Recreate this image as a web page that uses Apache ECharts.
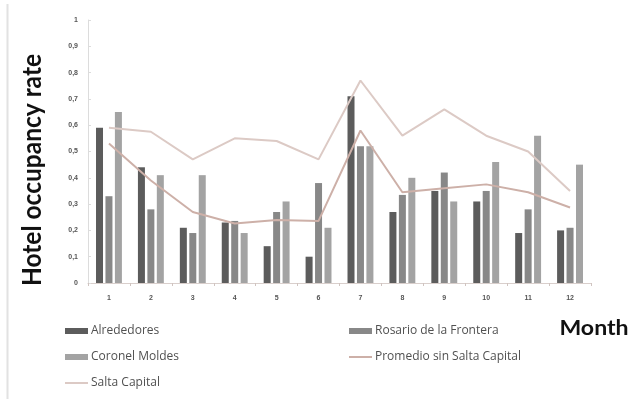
<!DOCTYPE html>
<html>
<head>
<meta charset="utf-8">
<script src="https://cdn.jsdelivr.net/npm/echarts@6/dist/echarts.min.js"></script>
<style>
  html, body { margin: 0; padding: 0; background: #fff; }
  #chart { width: 630px; height: 399px; }
</style>
</head>
<body>
<div id="chart"></div>
<script>
// Months on the category axis
const months = ['1', '2', '3', '4', '5', '6', '7', '8', '9', '10', '11', '12'];

// Monthly hotel occupancy rate per locality
const alrededores = [0.59, 0.44, 0.21, 0.23, 0.14, 0.10, 0.71, 0.27, 0.35, 0.31, 0.19, 0.20];
const rosarioDeLaFrontera = [0.33, 0.28, 0.19, 0.236, 0.27, 0.38, 0.52, 0.335, 0.42, 0.35, 0.28, 0.21];
const coronelMoldes = [0.65, 0.41, 0.41, 0.19, 0.31, 0.21, 0.52, 0.40, 0.31, 0.46, 0.56, 0.45];
const promedioSinSaltaCapital = [0.53, 0.39, 0.27, 0.226, 0.24, 0.236, 0.58, 0.345, 0.36, 0.375, 0.345, 0.287];
const saltaCapital = [0.59, 0.575, 0.47, 0.55, 0.54, 0.47, 0.77, 0.56, 0.66, 0.56, 0.50, 0.35];

// Y axis tick values, shown with a decimal comma
const yTicks = [0, 0.1, 0.2, 0.3, 0.4, 0.5, 0.6, 0.7, 0.8, 0.9, 1];

const chart = echarts.init(document.getElementById('chart'), null, { renderer: 'canvas' });

const tickFont = { fontFamily: 'Liberation Sans', fontSize: 7, color: '#555', fontWeight: 'bold' };
const legendText = { fontFamily: 'Open Sans', fontSize: 12, color: '#505050', lineHeight: 14, padding: [0, 0, 0, -2] };

const barSeries = (name, data, color) => ({
  name, type: 'bar', data,
  barWidth: 7, barGap: '35%',
  itemStyle: { color }
});

// line entries in the legend show only the stroke, no marker
const lineEntry = name => ({ name, itemStyle: { opacity: 0 } });

chart.setOption({
  animation: false,
  backgroundColor: '#fff',
  grid: { left: 88, right: 39, top: 20, bottom: 116, containLabel: false },
  xAxis: {
    type: 'category',
    data: months,
    axisLine: { lineStyle: { color: '#d9cfcc', width: 1 } },
    axisTick: { show: true, length: 3, lineStyle: { color: '#d0c4c0' } },
    axisLabel: Object.assign({ margin: 12 }, tickFont)
  },
  yAxis: {
    type: 'value',
    min: 0, max: 1, interval: 0.1,
    axisLine: { show: true, lineStyle: { color: '#dcdcdc' } },
    axisTick: { show: true, inside: true, length: 3, lineStyle: { color: '#dcdcdc' } },
    splitLine: { show: false },
    axisLabel: Object.assign({
      margin: 10,
      formatter: v => {
        const t = yTicks.find(k => Math.abs(k - v) < 1e-6);
        return t === undefined ? '' : String(t).replace('.', ',');
      }
    }, tickFont)
  },
  legend: [
    {
      orient: 'vertical', left: 64, top: 324, padding: 0,
      itemWidth: 23, itemHeight: 6, itemGap: 12,
      textStyle: legendText,
      data: [
        { name: 'Alrededores', icon: 'rect' },
        { name: 'Coronel Moldes', icon: 'rect' },
        lineEntry('Salta Capital')
      ]
    },
    {
      orient: 'vertical', left: 348, top: 324, padding: 0,
      itemWidth: 23, itemHeight: 6, itemGap: 12,
      textStyle: legendText,
      data: [
        { name: 'Rosario de la Frontera', icon: 'rect' },
        lineEntry('Promedio sin Salta Capital')
      ]
    }
  ],
  series: [
    barSeries('Alrededores', alrededores, '#5c5c5c'),
    barSeries('Rosario de la Frontera', rosarioDeLaFrontera, '#888888'),
    barSeries('Coronel Moldes', coronelMoldes, '#a3a3a3'),
    {
      name: 'Promedio sin Salta Capital', type: 'line', data: promedioSinSaltaCapital,
      symbol: 'none', z: 3,
      lineStyle: { color: '#cdb0a8', width: 2 },
      itemStyle: { color: '#cdb0a8' }
    },
    {
      name: 'Salta Capital', type: 'line', data: saltaCapital,
      symbol: 'none', z: 3,
      lineStyle: { color: '#dccac5', width: 2 },
      itemStyle: { color: '#dccac5' }
    }
  ],
  graphic: [
    {
      type: 'line', shape: { x1: 7.5, y1: 4, x2: 7.5, y2: 399 },
      style: { stroke: '#e2e2e2', lineWidth: 2 }, silent: true
    },
    {
      type: 'text', x: 32, y: 170, rotation: Math.PI / 2, scaleY: 1.1,
      style: {
        text: 'Hotel occupancy rate', fontFamily: 'Lato', fontWeight: 'bold',
        fontSize: 24.5, fill: '#111', align: 'center', verticalAlign: 'middle'
      }
    },
    {
      type: 'text', x: 594, y: 328, scaleX: 1.1,
      style: {
        text: 'Month', fontFamily: 'Lato', fontWeight: 'bold',
        fontSize: 21, fill: '#111', align: 'center', verticalAlign: 'middle'
      }
    }
  ]
});
</script>
</body>
</html>
